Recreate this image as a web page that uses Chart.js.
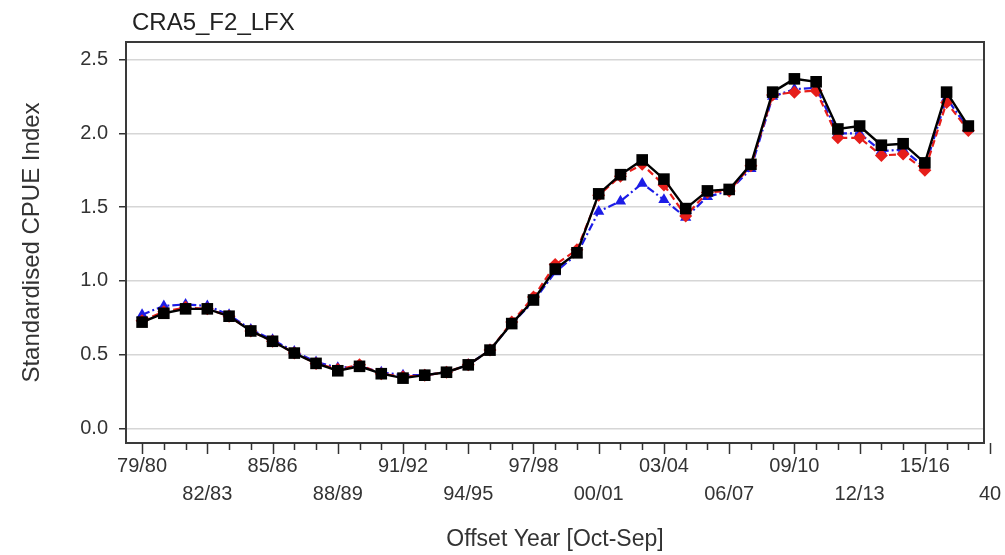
<!DOCTYPE html>
<html>
<head>
<meta charset="utf-8">
<script src="https://cdn.jsdelivr.net/npm/chart.js@4.4.0/dist/chart.umd.min.js"></script>
<style>
  html, body { margin: 0; padding: 0; background: #ffffff; }
  #wrap { width: 1005px; height: 555px; position: relative; }
</style>
</head>
<body>
<div id="wrap"><canvas id="c" width="1005" height="555"></canvas></div>
<script>
// Fishing seasons (Oct-Sep offset years)
const seasons = ['79/80','80/81','81/82','82/83','83/84','84/85','85/86','86/87','87/88','88/89',
  '89/90','90/91','91/92','92/93','93/94','94/95','95/96','96/97','97/98','98/99',
  '99/00','00/01','01/02','02/03','03/04','04/05','05/06','06/07','07/08','08/09',
  '09/10','10/11','11/12','12/13','13/14','14/15','15/16','16/17','17/18'];

// Standardised CPUE indices, one series per model variant
const blueSeries = [0.77,0.83,0.84,0.83,0.77,0.67,0.60,0.52,0.45,0.41,0.42,0.38,0.36,0.36,0.38,0.43,0.53,0.71,0.86,1.06,
  1.18,1.47,1.54,1.66,1.55,1.43,1.57,1.61,1.76,2.25,2.30,2.31,2.00,2.00,1.88,1.89,1.77,2.24,2.03];
const redSeries = [0.73,0.79,0.82,0.81,0.76,0.66,0.59,0.51,0.44,0.40,0.43,0.37,0.35,0.36,0.38,0.43,0.53,0.72,0.89,1.11,
  1.21,1.58,1.71,1.79,1.65,1.44,1.60,1.61,1.78,2.26,2.28,2.29,1.97,1.97,1.85,1.86,1.75,2.21,2.02];
const blackSeries = [0.72,0.78,0.81,0.81,0.76,0.66,0.59,0.51,0.44,0.39,0.42,0.37,0.34,0.36,0.38,0.43,0.53,0.71,0.87,1.08,
  1.19,1.59,1.72,1.82,1.69,1.49,1.61,1.62,1.79,2.28,2.37,2.35,2.03,2.05,1.92,1.93,1.80,2.28,2.05];

// Labelled positions on the season axis (every third season) and their text
const xTickPositions = [0,3,6,9,12,15,18,21,24,27,30,33,36,39];
const xTickLabels = ['79/80','82/83','85/86','88/89','91/92','94/95','97/98','00/01','03/04','06/07','09/10','12/13','15/16','40'];
const yTickValues = [0.0,0.5,1.0,1.5,2.0,2.5];

const FONT = "'Liberation Sans', Arial, sans-serif";
const toPoints = arr => arr.map((v, i) => ({ x: i, y: v }));

// Plot frame plus minor/major tick marks along the season axis
const framePlugin = {
  id: 'frame',
  beforeDatasetsDraw(chart) {
    const { ctx, chartArea: a, scales: { x } } = chart;
    ctx.save();
    ctx.strokeStyle = '#3a3a3a';
    ctx.lineWidth = 2;
    ctx.strokeRect(a.left, a.top, a.right - a.left, a.bottom - a.top);
    ctx.lineWidth = 1.5;
    ctx.strokeStyle = '#333';
    for (let i = 0; i <= seasons.length; i++) {
      const px = Math.round(x.getPixelForValue(i)) + 0.5;
      const len = (i % 3 === 0) ? 11 : 7;
      ctx.beginPath();
      ctx.moveTo(px, a.bottom);
      ctx.lineTo(px, a.bottom + len);
      ctx.stroke();
    }
    ctx.restore();
  }
};

new Chart(document.getElementById('c'), {
  type: 'line',
  data: {
    datasets: [
      {
        label: 'black',
        data: toPoints(blackSeries),
        borderColor: '#000000',
        backgroundColor: '#000000',
        borderWidth: 2.4,
        pointStyle: 'rect',
        pointRadius: 8.2,
        pointBorderWidth: 0,
        tension: 0,
        order: 1
      },
      {
        label: 'red',
        data: toPoints(redSeries),
        borderColor: '#e61e1a',
        backgroundColor: '#e61e1a',
        borderWidth: 2.2,
        borderDash: [7, 4],
        pointStyle: 'rectRot',
        pointRadius: 6.5,
        pointBorderWidth: 0,
        tension: 0,
        order: 2
      },
      {
        label: 'blue',
        data: toPoints(blueSeries),
        borderColor: '#1c1ce6',
        backgroundColor: '#1c1ce6',
        borderWidth: 2.2,
        borderDash: [8, 3, 2, 3],
        pointStyle: 'triangle',
        pointRadius: 6.5,
        pointBorderWidth: 0,
        tension: 0,
        order: 3
      }
    ]
  },
  options: {
    responsive: false,
    devicePixelRatio: 1,
    animation: false,
    events: [],
    layout: { padding: { left: 0, top: 42, right: 21, bottom: 0 } },
    plugins: {
      legend: { display: false },
      title: { display: false },
      tooltip: { enabled: false }
    },
    scales: {
      x: {
        type: 'linear',
        min: -0.74,
        max: 38.72,
        grid: { display: false, drawTicks: false },
        border: { display: false },
        afterBuildTicks: s => { s.ticks = xTickPositions.map(v => ({ value: v })); },
        afterFit: s => { s.height = 112; s.paddingLeft = 0; s.paddingRight = 0; },
        ticks: {
          autoSkip: false,
          maxRotation: 0,
          padding: 9,
          color: '#333',
          font: { family: FONT, size: 20, lineHeight: '28px' },
          callback: v => {
            const k = xTickPositions.indexOf(v);
            if (k < 0) return '';
            return k % 2 === 0 ? [xTickLabels[k]] : ['', xTickLabels[k]];
          }
        },
        title: {
          display: true,
          text: 'Offset Year [Oct-Sep]',
          color: '#333',
          font: { family: FONT, size: 23 },
          padding: { top: 0, bottom: 2 }
        }
      },
      y: {
        min: -0.1,
        max: 2.62,
        afterBuildTicks: s => { s.ticks = yTickValues.map(v => ({ value: v })); },
        afterFit: s => { s.width = 126; s.paddingTop = 0; s.paddingBottom = 0; },
        grid: {
          color: '#d6d6d6',
          lineWidth: 1.5,
          tickColor: '#333',
          tickLength: 7,
          drawTicks: true
        },
        border: { display: false },
        ticks: {
          padding: 11,
          color: '#333',
          font: { family: FONT, size: 20 },
          callback: v => Number(v).toFixed(1)
        },
        title: {
          display: true,
          text: 'Standardised CPUE Index',
          color: '#333',
          font: { family: FONT, size: 24 },
          padding: { top: 18, bottom: 0 }
        }
      }
    }
  },
  plugins: [framePlugin, {
    id: 'panelTitle',
    afterDraw(chart) {
      const { ctx, chartArea: a } = chart;
      ctx.save();
      ctx.fillStyle = '#222';
      ctx.font = "24px " + FONT;
      ctx.textBaseline = 'middle';
      ctx.textAlign = 'left';
      ctx.fillText('CRA5_F2_LFX', a.left + 6, 23);
      ctx.restore();
    }
  }]
});
</script>
</body>
</html>
